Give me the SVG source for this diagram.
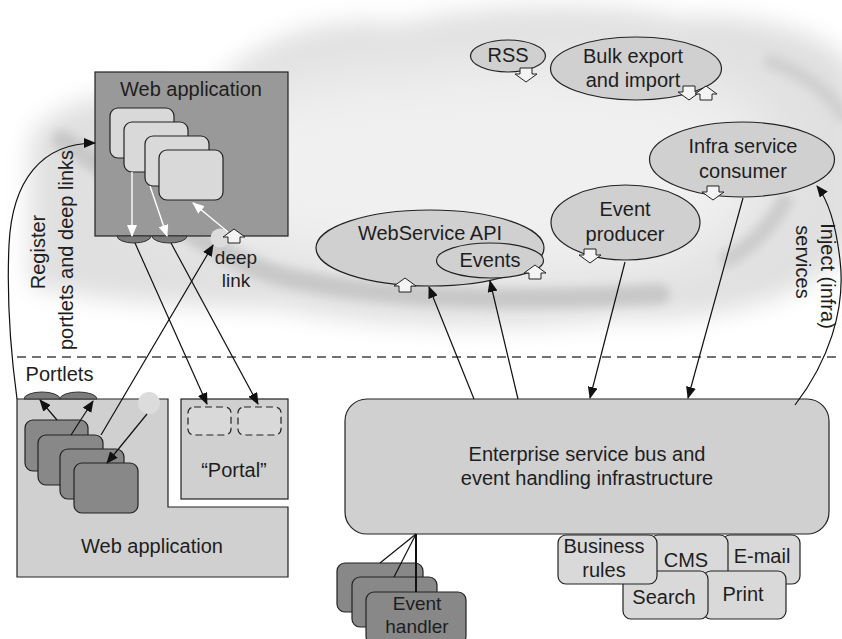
<svg xmlns="http://www.w3.org/2000/svg" xmlns:xlink="http://www.w3.org/1999/xlink" width="842" height="639" viewBox="0 0 842 639">
<style>
text{font-family:"Liberation Sans",Arial,sans-serif;font-size:20px;fill:#1e1e1e}
.mid{text-anchor:middle}
.sm{font-size:19px}
.node{fill:#d0d0d0;stroke:#222;stroke-width:1.2}
.lite{fill:#d9d9d9;stroke:#222;stroke-width:1.2}
.dark{fill:#888;stroke:#222;stroke-width:1.2}
.plug{fill:#7c7c7c;stroke:#333;stroke-width:1}
.hollow{fill:#f4f4f4;stroke:#222;stroke-width:1}
.ln{fill:none;stroke:#111;stroke-width:1.2}
.wl{fill:none;stroke:#fff;stroke-width:1.4}
.slot{fill:#d9d9d9;stroke:#222;stroke-width:1.2;stroke-dasharray:7 4}
</style>
<defs>
<marker id="ah" markerUnits="userSpaceOnUse" markerWidth="12" markerHeight="10" refX="11" refY="5" orient="auto"><path d="M0,0 L12,5 L0,10 Z" fill="#111"/></marker>
<marker id="wh" markerUnits="userSpaceOnUse" markerWidth="12" markerHeight="10" refX="11" refY="5" orient="auto"><path d="M0,0 L12,5 L0,10 Z" fill="#fff"/></marker>
<filter id="b1" x="-20%" y="-30%" width="140%" height="160%"><feGaussianBlur stdDeviation="12"/></filter>
<filter id="b3" x="-30%" y="-40%" width="160%" height="180%"><feGaussianBlur stdDeviation="30"/></filter>
<filter id="b2" x="-20%" y="-50%" width="140%" height="200%"><feGaussianBlur stdDeviation="5"/></filter>
<path id="ua" class="hollow" d="M0,0 L11,8 L6,8 L6,14 L-6,14 L-6,8 L-11,8 Z"/>
<path id="da" class="hollow" d="M0,14 L11,6 L6,6 L6,0 L-6,0 L-6,6 L-11,6 Z"/>
</defs>
<rect width="842" height="639" fill="#fff"/>
<g id="cloud">
<path filter="url(#b1)" fill="#e0e0e0" d="M30,140 C50,95 140,85 210,95 C240,45 320,12 400,25 C470,5 600,0 680,18 C760,12 850,35 860,85 L860,235 C820,300 720,322 620,318 C520,332 380,328 280,308 C180,306 80,300 30,285 Z"/>
<path filter="url(#b3)" fill="#f0f0f0" d="M140,150 C200,110 300,70 420,70 C540,50 680,60 760,110 C800,160 760,250 650,270 C500,285 340,270 230,240 C160,220 110,190 140,150 Z"/>
<path filter="url(#b2)" fill="none" stroke="#c8c8c8" stroke-width="20" stroke-linecap="round" d="M62,140 C130,180 190,250 280,276 C380,300 520,302 660,294"/>
<path filter="url(#b2)" fill="none" stroke="#d0d0d0" stroke-width="14" d="M765,60 C805,72 830,92 846,120"/>
<path filter="url(#b2)" fill="none" stroke="#cccccc" stroke-width="16" d="M722,262 C752,248 772,225 788,196"/>
</g>
<line x1="17" y1="357" x2="842" y2="357" stroke="#444" stroke-width="1.3" stroke-dasharray="9 6"/>
<g id="webapp-top">
<rect x="95" y="72" width="193" height="164" fill="#999" stroke="#222" stroke-width="1.2"/>
<text class="mid" x="191" y="96">Web application</text>
<rect class="lite" x="110" y="108" width="64" height="50" rx="8"/>
<rect class="lite" x="124" y="122" width="64" height="50" rx="8"/>
<rect class="lite" x="145" y="136" width="64" height="50" rx="8"/>
<rect class="lite" x="159" y="150" width="64" height="50" rx="8"/>
<path class="plug" d="M117,236 A17,7 0 0 0 151,236 Z"/>
<path class="plug" d="M152,236 A17.5,7 0 0 0 187,236 Z"/>
<circle cx="220" cy="238" r="9.5" fill="#dcdcdc"/>
<use xlink:href="#ua" x="234" y="229"/>
<text class="mid sm" x="236" y="264">deep</text>
<text class="mid sm" x="236" y="287">link</text>
</g>
<g id="webapp-bottom">
<path d="M17,399 H168 V507 H288 V577 H17 Z" fill="#d0d0d0" stroke="#222" stroke-width="1.2"/>
<path class="plug" d="M24,399 A18,7 0 0 1 60,399 Z"/>
<path class="plug" d="M60,399 A18.5,7 0 0 1 97,399 Z"/>
<circle cx="149" cy="403" r="11" fill="#dcdcdc"/>
<rect class="dark" x="25" y="420" width="63" height="51" rx="8"/>
<rect class="dark" x="38" y="435" width="65" height="50" rx="8"/>
<rect class="dark" x="60" y="449" width="64" height="50" rx="8"/>
<rect class="dark" x="74" y="463" width="64" height="50" rx="8"/>
<text class="mid" x="152" y="553">Web application</text>
<text class="mid" x="59.5" y="381">Portlets</text>
</g>
<g id="portal">
<rect class="node" x="181" y="399" width="107" height="100"/>
<rect class="slot" x="188" y="407" width="43" height="28" rx="6"/>
<rect class="slot" x="238" y="407" width="43" height="28" rx="6"/>
<text class="mid" x="234" y="477">“Portal”</text>
</g>
<g id="rss"><ellipse class="node" cx="508" cy="56" rx="37.5" ry="16"/><text class="mid" x="508" y="62">RSS</text><use xlink:href="#da" x="526" y="68"/></g>
<g id="bulk"><ellipse class="node" cx="636" cy="68.5" rx="85.5" ry="31.5"/><text class="mid" x="633" y="63">Bulk export</text><text class="mid" x="633" y="87">and import</text><use xlink:href="#da" x="689" y="86"/><use xlink:href="#ua" x="706" y="86"/></g>
<g id="infra"><ellipse class="node" cx="742" cy="159.5" rx="92.5" ry="37.5"/><text class="mid" x="743" y="153">Infra service</text><text class="mid" x="743" y="178">consumer</text><use xlink:href="#da" x="713" y="186"/></g>
<g id="producer"><ellipse class="node" cx="625.5" cy="222.5" rx="74.5" ry="37.5"/><text class="mid" x="625" y="216">Event</text><text class="mid" x="625" y="241">producer</text><use xlink:href="#da" x="590" y="249"/></g>
<g id="wsapi"><ellipse class="node" cx="430" cy="248" rx="114" ry="38"/><text class="mid" x="430" y="240">WebService API</text><use xlink:href="#ua" x="405" y="278"/></g>
<g id="events"><ellipse class="node" cx="490" cy="260.5" rx="53.5" ry="17.5"/><text class="mid" x="490" y="267">Events</text><use xlink:href="#ua" x="535" y="265"/></g>
<g id="esb"><rect class="node" x="345" y="399" width="484" height="135" rx="22"/><text class="mid" x="587" y="461">Enterprise service bus and</text><text class="mid" x="587" y="485">event handling infrastructure</text></g>
<g id="services">
<rect class="lite" x="722" y="535" width="78" height="49" rx="8"/><text class="mid" x="762" y="563">E-mail</text>
<rect class="lite" x="650" y="535" width="78" height="49" rx="8"/><text class="mid" x="686" y="567">CMS</text>
<rect class="lite" x="703" y="571" width="83" height="48" rx="8"/><text class="mid" x="743" y="601">Print</text>
<rect class="lite" x="623" y="571" width="85" height="48" rx="8"/><text class="mid" x="664" y="604">Search</text>
<rect class="lite" x="558" y="535" width="99" height="49" rx="8"/><text class="mid" x="604" y="553">Business</text><text class="mid" x="604" y="577">rules</text>
</g>
<g id="handlers">
<rect class="dark" x="337" y="563" width="86" height="49" rx="8"/>
<rect class="dark" x="352" y="577" width="85" height="50" rx="8"/>
<rect class="dark" x="366" y="592" width="100" height="52" rx="8"/>
<text class="mid sm" x="417" y="610">Event</text>
<text class="mid sm" x="417" y="633">handler</text>
</g>
<g id="connectors">
<line class="wl" x1="132" y1="172" x2="132" y2="236" marker-end="url(#wh)"/>
<line class="wl" x1="150" y1="186" x2="167" y2="236" marker-end="url(#wh)"/>
<line class="wl" x1="228" y1="232" x2="193" y2="203" marker-end="url(#wh)"/>
<line class="ln" x1="135" y1="243" x2="207" y2="404" marker-end="url(#ah)"/>
<line class="ln" x1="171" y1="243" x2="258" y2="404" marker-end="url(#ah)"/>
<line class="ln" x1="101" y1="435" x2="213" y2="245" marker-end="url(#ah)"/>
<line class="ln" x1="57" y1="420" x2="40" y2="400" marker-end="url(#ah)"/>
<line class="ln" x1="71" y1="435" x2="93" y2="401" marker-end="url(#ah)"/>
<line class="ln" x1="147" y1="414" x2="107" y2="463" marker-end="url(#ah)"/>
<path class="ln" d="M17,399 C9,340 7,290 9,245 C12,180 42,143 95,143" marker-end="url(#ah)"/>
<line class="ln" x1="474" y1="399" x2="429" y2="287" marker-end="url(#ah)"/>
<line class="ln" x1="518" y1="399" x2="490" y2="281" marker-end="url(#ah)"/>
<line class="ln" x1="625" y1="262" x2="590" y2="398" marker-end="url(#ah)"/>
<line class="ln" x1="743" y1="198" x2="688" y2="398" marker-end="url(#ah)"/>
<path class="ln" d="M795,405 C828,362 846,310 840,260 C836,225 828,200 817,186" marker-end="url(#ah)"/>
<line class="ln" x1="416" y1="534" x2="380" y2="563"/>
<line class="ln" x1="416" y1="534" x2="394" y2="577"/>
<line x1="416" y1="534" x2="416" y2="592" stroke="#111" stroke-width="2"/>
</g>
<g id="labels">
<text class="mid" transform="translate(45,252) rotate(-90)">Register</text>
<text class="mid" transform="translate(73,250) rotate(-90)">portlets and deep links</text>
<text class="mid" transform="translate(821,276) rotate(90)">Inject (infra)</text>
<text class="mid" transform="translate(796,262) rotate(90)">services</text>
</g>
</svg>
